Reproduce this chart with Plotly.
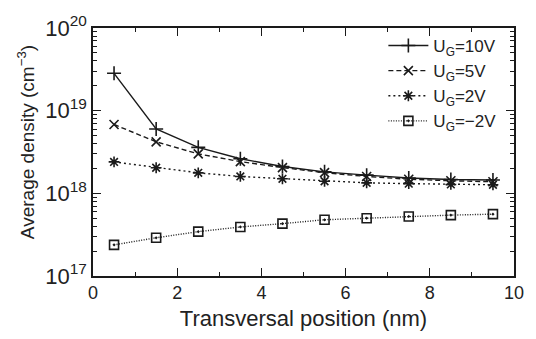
import plotly.graph_objects as go

x_pos = [0.5, 1.5, 2.5, 3.5, 4.5, 5.5, 6.5, 7.5, 8.5, 9.5]
u10 = [2.83e19, 6.0e18, 3.6e18, 2.62e18, 2.11e18, 1.82e18, 1.66e18, 1.53e18, 1.47e18, 1.45e18]
u5 = [6.8e18, 4.2e18, 3.0e18, 2.42e18, 2.05e18, 1.78e18, 1.6e18, 1.48e18, 1.42e18, 1.38e18]
u2 = [2.4e18, 2.04e18, 1.77e18, 1.6e18, 1.5e18, 1.4e18, 1.34e18, 1.31e18, 1.28e18, 1.27e18]
um2 = [2.38e17, 2.9e17, 3.44e17, 3.92e17, 4.3e17, 4.79e17, 5.0e17, 5.25e17, 5.45e17, 5.6e17]

names = ["U<sub>G</sub>=10V", "U<sub>G</sub>=5V", "U<sub>G</sub>=2V", "U<sub>G</sub>=\u22122V"]
series = [u10, u5, u2, um2]
dashes = ["solid", "5px,3px", "2px,3px", "1px,1.5px"]
symbols = ["cross-thin-open", "x-thin-open", "asterisk-open", "square-open-dot"]
sizes = [10, 9, 9, 9]

decades = [17, 18, 19, 20]
y_tickvals = [10.0 ** d for d in decades]
y_ticktext = ["10<sup>%d</sup>" % d for d in decades]
y_minor_vals = [m * 10.0 ** d for d in decades[:-1] for m in range(2, 10)]
x_tickvals = [0, 2, 4, 6, 8, 10]

col = "#1a1a1a"
fig = go.Figure()
for name, ys, d, s, sz in zip(names, series, dashes, symbols, sizes):
    fig.add_trace(go.Scatter(
        x=x_pos, y=ys, name=name, mode="lines+markers",
        line=dict(color=col, width=1.4, dash=d),
        marker=dict(symbol=s, size=sz, color=col, line=dict(color=col, width=1.6)),
    ))

fig.update_layout(
    width=536, height=339,
    margin=dict(l=93, r=16, t=18, b=56),
    paper_bgcolor="white", plot_bgcolor="white",
    font=dict(family="Liberation Sans, Arial", size=18, color="#222"),
    showlegend=True,
    legend=dict(x=0.97, y=1.0, xanchor="right", yanchor="top",
                bgcolor="rgba(0,0,0,0)", font=dict(size=17),
                tracegroupgap=0, itemwidth=40),
    annotations=[dict(
        text="Average density (cm<sup>\u22123</sup>)", textangle=-90,
        xref="paper", yref="paper", x=-0.159, y=0.54,
        xanchor="center", yanchor="middle", showarrow=False,
        font=dict(size=19, color="#222"),
    )],
)
fig.update_xaxes(
    range=[0, 10], tickvals=x_tickvals, ticks="inside", ticklen=8,
    tickwidth=1.2, tickcolor=col, showline=True, linecolor=col, linewidth=1.5,
    mirror="allticks", showgrid=False, zeroline=False,
    minor=dict(ticks="inside", ticklen=4, tickcolor=col, dtick=1, showgrid=False),
    title=dict(text="Transversal position (nm)", standoff=8),
)
fig.update_yaxes(
    type="log", range=[17, 20], tickvals=y_tickvals, ticktext=y_ticktext,
    tickfont=dict(size=22),
    ticks="inside", ticklen=8, tickwidth=1.2, tickcolor=col,
    showline=True, linecolor=col, linewidth=1.5, mirror="allticks",
    showgrid=False, zeroline=False,
    minor=dict(ticks="inside", ticklen=4, tickcolor=col, tickvals=y_minor_vals,
               showgrid=False),
)
fig.write_html("out.html")
